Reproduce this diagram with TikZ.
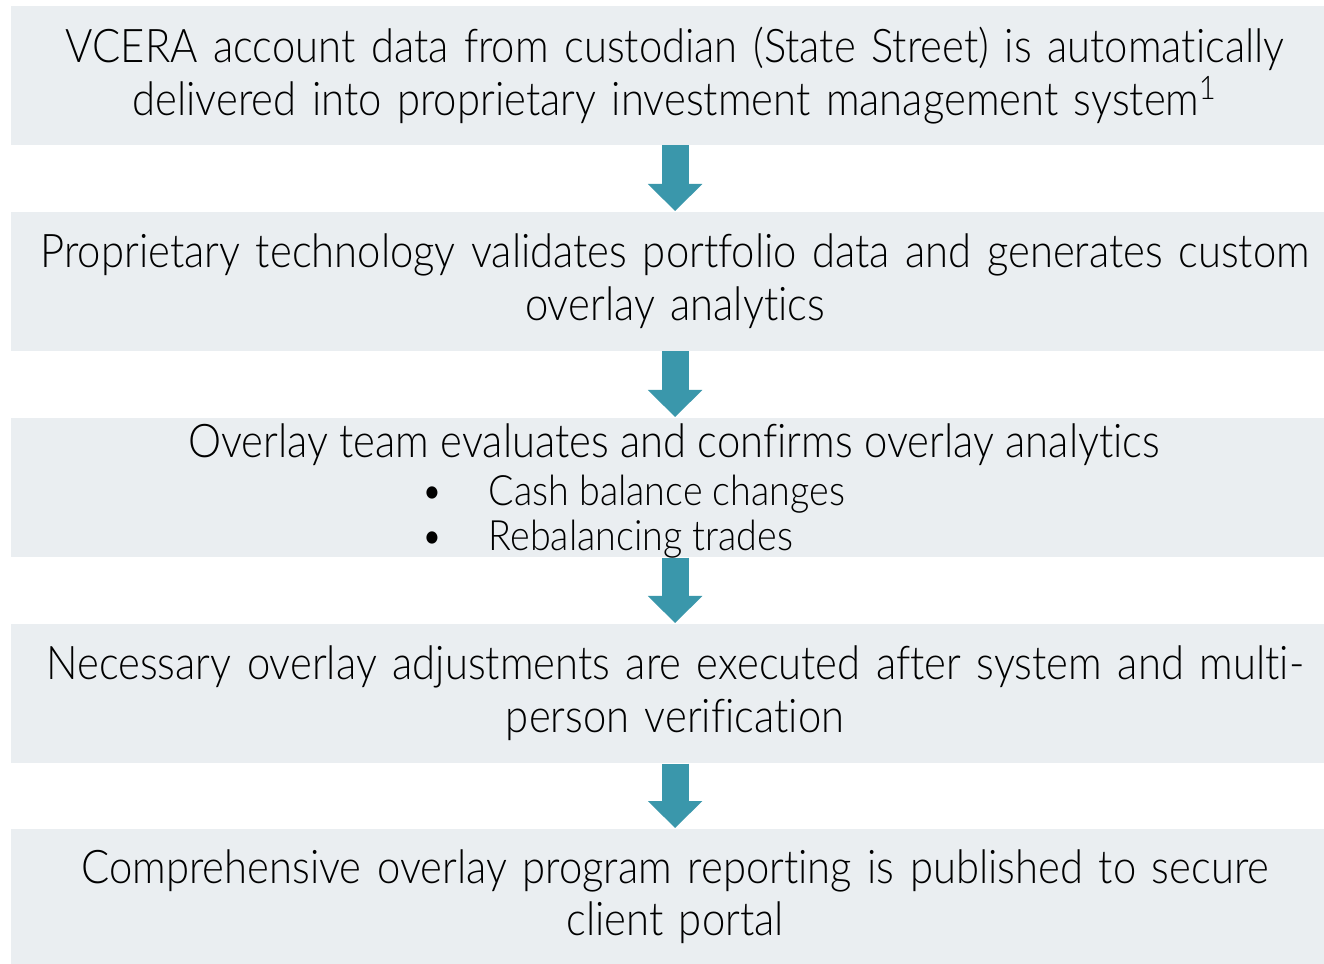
\documentclass[tikz,border=0pt]{standalone}
\usepackage{fontspec}
\setmainfont{Lato}[UprightFont={* Light}, Ligatures=NoCommon, FakeStretch=0.9]
\usepackage{tikz}
\usetikzlibrary{arrows.meta, positioning}
\definecolor{panel}{HTML}{EAEEF1}
\definecolor{teal}{HTML}{3A97AB}

\begin{document}
\begin{tikzpicture}[
      x=0.01cm, y=-0.01cm,
      every node/.style={font=\fontsize{13.2}{15}\selectfont, inner sep=0pt},
      stepbox/.style={fill=panel, minimum width=13.28cm, text width=13.28cm,
                      minimum height=1.39cm, align=center, anchor=north west},
      flow/.style={draw=teal, line width=0.27cm,
                   -{Triangle[width=0.53cm, length=0.27cm]}},
      bullet/.style={font=\fontsize{11.9}{13}\selectfont, anchor=base west},
    ]
    \useasboundingbox (0,0) rectangle (1324,963);
    \node[stepbox] (s1) at (10,5) {VCERA account data from custodian (State Street) is automatically\\
      delivered into proprietary investment management system\textsuperscript{1}};
    \node[stepbox] (s2) at (10,211) {Proprietary technology validates portfolio data and generates custom\\
      overlay analytics};
    \node[stepbox] (s3) at (10,417) {};
    \node[stepbox] (s4) at (10,623) {Necessary overlay adjustments are executed after system and multi-\\
      person verification};
    \node[stepbox, minimum height=1.36cm] (s5) at (10,828) {Comprehensive overlay program reporting is published to secure\\
      client portal};

    % arrows between the steps
    \draw[flow] (s1.south) -- (s2.north);
    \draw[flow] (s2.south) -- (s3.north);
    \draw[flow] (s3.south) -- (s4.north);
    \draw[flow] (s4.south) -- (s5.north);

    % third step: heading and bullet list
    \node[anchor=base] (t3) at (674,457) {Overlay team evaluates and confirms overlay analytics};
    \node[bullet] (d1) at (421,505) {\textbullet};
    \node[bullet] (i1) at (488,505) {Cash balance changes};
    \node[bullet] (d2) at (421,550) {\textbullet};
    \node[bullet] (i2) at (488,550) {Rebalancing trades};
\end{tikzpicture}
\end{document}
